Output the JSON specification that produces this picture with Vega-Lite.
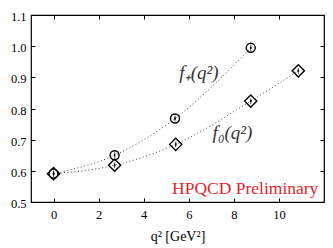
{
  "$schema": "https://vega.github.io/schema/vega-lite/v6.json",
  "width": 293,
  "height": 187,
  "autosize": {"type": "none"},
  "padding": {"left": 31, "top": 15, "right": 9, "bottom": 46},
  "background": "white",
  "config": {
    "view": {"stroke": "black", "strokeWidth": 1.2},
    "font": "Liberation Serif",
    "axis": {
      "domain": false,
      "grid": false,
      "tickColor": "black",
      "tickSize": -4,
      "tickWidth": 1,
      "labelColor": "black",
      "labelFont": "Liberation Serif",
      "labelFontSize": 12.5,
      "titleFont": "Liberation Serif",
      "titleFontWeight": "normal",
      "titleColor": "black"
    }
  },
  "datasets": {
    "pts": [
      {"q2": 0.0, "f": 0.591, "lo": 0.588, "hi": 0.594, "form": "fplus"},
      {"q2": 2.71, "f": 0.650, "lo": 0.647, "hi": 0.653, "form": "fplus"},
      {"q2": 5.39, "f": 0.768, "lo": 0.765, "hi": 0.771, "form": "fplus"},
      {"q2": 8.75, "f": 0.995, "lo": 0.992, "hi": 0.998, "form": "fplus"},
      {"q2": 0.0, "f": 0.591, "lo": 0.588, "hi": 0.594, "form": "fzero"},
      {"q2": 2.71, "f": 0.618, "lo": 0.615, "hi": 0.621, "form": "fzero"},
      {"q2": 5.42, "f": 0.685, "lo": 0.682, "hi": 0.688, "form": "fzero"},
      {"q2": 8.75, "f": 0.824, "lo": 0.821, "hi": 0.827, "form": "fzero"},
      {"q2": 10.86, "f": 0.921, "lo": 0.918, "hi": 0.924, "form": "fzero"}
    ],
    "labels": [
      {"x": 6.45, "y": 0.913, "t": "f₊(q²)"},
      {"x": 7.94, "y": 0.72, "t": "f₀(q²)"}
    ],
    "note": [
      {"x": 11.75, "y": 0.543, "t": "HPQCD Preliminary"}
    ]
  },
  "resolve": {"axis": {"x": "independent", "y": "independent"}},
  "layer": [
    {
      "data": {"name": "pts"},
      "mark": {"type": "line", "interpolate": "monotone", "strokeDash": [1, 2.5], "strokeWidth": 1, "color": "#444444"},
      "encoding": {
        "x": {"field": "q2", "type": "quantitative", "scale": {"domain": [-1, 12], "nice": false, "zero": false},
              "axis": {"orient": "bottom", "values": [0, 2, 4, 6, 8, 10], "format": "d", "labelPadding": 10, "title": "q²  [GeV²]", "titleFontSize": 14, "titleFontWeight": 400, "titlePadding": 9}},
        "y": {"field": "f", "type": "quantitative", "scale": {"domain": [0.5, 1.1003], "nice": false, "zero": false},
              "axis": {"orient": "left", "values": [0.5, 0.6, 0.7, 0.8, 0.9, 1.0, 1.1], "format": ".1f", "labelPadding": 9, "labelBaseline": "top", "labelOffset": -4.5, "labelOverlap": false, "labelBound": false, "labelFlush": false, "title": null}},
        "detail": {"field": "form"}
      }
    },
    {
      "data": {"name": "pts"},
      "mark": {"type": "point", "filled": false, "strokeWidth": 1.4, "color": "black", "opacity": 1},
      "encoding": {
        "x": {"field": "q2", "type": "quantitative",
              "axis": {"orient": "top", "values": [0, 2, 4, 6, 8, 10], "labels": false, "title": null}},
        "y": {"field": "f", "type": "quantitative",
              "axis": {"orient": "right", "values": [0.6, 0.7, 0.8, 0.9, 1.0], "labels": false, "title": null}},
        "shape": {"field": "form", "type": "nominal", "scale": {"domain": ["fplus", "fzero"], "range": ["circle", "diamond"]}, "legend": null},
        "size": {"field": "form", "type": "nominal", "scale": {"domain": ["fplus", "fzero"], "range": [81, 150]}, "legend": null}
      }
    },
    {
      "data": {"name": "pts"},
      "mark": {"type": "rule", "color": "black", "strokeWidth": 1.5},
      "encoding": {
        "x": {"field": "q2", "type": "quantitative", "axis": null},
        "y": {"field": "lo", "type": "quantitative", "axis": null},
        "y2": {"field": "hi"}
      }
    },
    {
      "data": {"name": "pts"},
      "mark": {"type": "tick", "color": "black", "size": 4, "thickness": 1},
      "encoding": {
        "x": {"field": "q2", "type": "quantitative", "axis": null},
        "y": {"field": "lo", "type": "quantitative", "axis": null}
      }
    },
    {
      "data": {"name": "pts"},
      "mark": {"type": "tick", "color": "black", "size": 4, "thickness": 1},
      "encoding": {
        "x": {"field": "q2", "type": "quantitative", "axis": null},
        "y": {"field": "hi", "type": "quantitative", "axis": null}
      }
    },
    {
      "data": {"name": "labels"},
      "mark": {"type": "text", "font": "Liberation Serif", "fontSize": 19, "fontStyle": "italic", "align": "center", "baseline": "middle", "color": "#333333"},
      "encoding": {
        "x": {"field": "x", "type": "quantitative", "axis": null},
        "y": {"field": "y", "type": "quantitative", "axis": null},
        "text": {"field": "t"}
      }
    },
    {
      "data": {"name": "note"},
      "mark": {"type": "text", "font": "Liberation Serif", "fontSize": 17.5, "align": "right", "baseline": "middle", "color": "#e0262c"},
      "encoding": {
        "x": {"field": "x", "type": "quantitative", "axis": null},
        "y": {"field": "y", "type": "quantitative", "axis": null},
        "text": {"field": "t"}
      }
    }
  ]
}
